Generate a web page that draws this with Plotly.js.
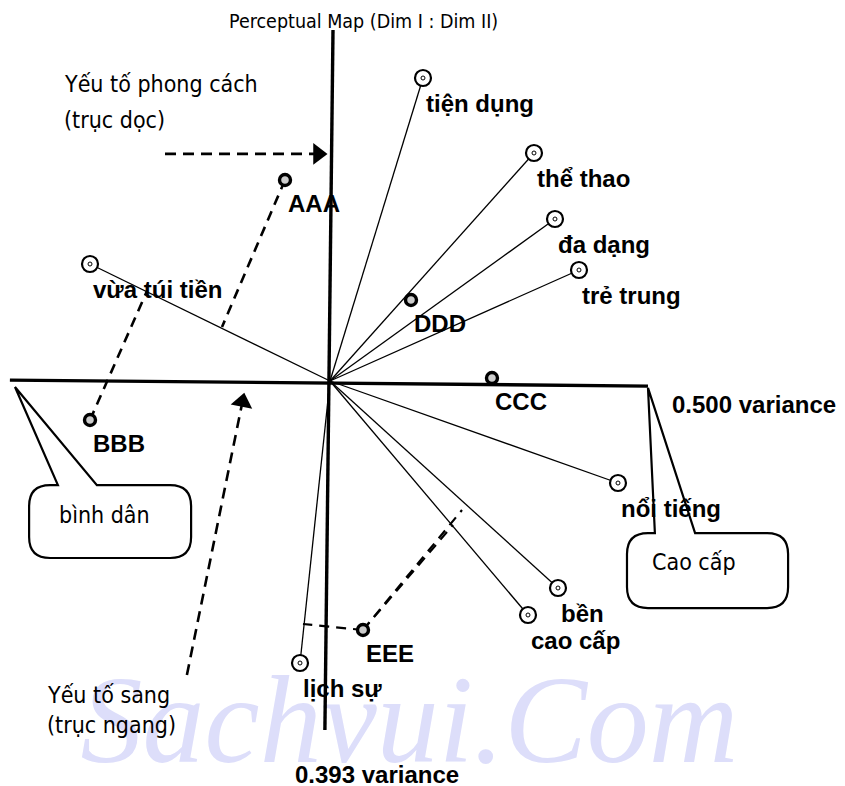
<!DOCTYPE html>
<html>
<head>
<meta charset="utf-8">
<script src="https://cdn.plot.ly/plotly-3.0.1.min.js"></script>
<style>
  body { margin: 0; background: #fff; }
  #plot { width: 845px; height: 786px; }
</style>
</head>
<body>
<div id="plot"></div>
<script>
// attribute vectors (Dim I, Dim II)
var attrNames = ['tiện dụng', 'thể thao', 'đa dạng', 'trẻ trung', 'vừa túi tiền', 'nổi tiếng', 'bền', 'cao cấp', 'lịch sự'];
var attrDim1 = [0.31, 0.68, 0.75, 0.83, -0.80, 0.96, 0.76, 0.66, -0.10];
var attrDim2 = [1.01, 0.76, 0.54, 0.37, 0.39, -0.34, -0.69, -0.78, -0.94];

// brands
var brandNames = ['AAA', 'BBB', 'CCC', 'DDD', 'EEE'];
var brandDim1 = [-0.15, -0.80, 0.54, 0.27, 0.11];
var brandDim2 = [0.67, -0.13, 0.01, 0.27, -0.83];

// projection feet of brands onto attribute vectors
var projFrom = ['AAA', 'BBB', 'EEE', 'EEE', 'EEE'];
var projDim1 = [-0.36, -0.61, -0.09, 0.44, 0.41];
var projDim2 = [0.18, 0.30, -0.81, -0.43, -0.48];

// axes as drawn
var axisH1 = [-1.067, 1.06], axisH2 = [0.003, -0.017];
var axisV1 = [0.01, -0.017], axisV2 = [1.17, -1.163];

var traces = [];

// watermark first so everything sits on top
traces.push({
    x: [0.265], y: [-1.165], mode: 'text', text: ['Sachvui.Com'],
    textfont: { family: 'Liberation Serif, Times New Roman, serif', size: 124, color: 'rgb(221,222,250)', style: 'italic' },
    hoverinfo: 'skip'
});

traces.push({ x: axisH1, y: axisH2, mode: 'lines', line: { color: '#000', width: 3.4 } });
traces.push({ x: axisV1, y: axisV2, mode: 'lines', line: { color: '#000', width: 3.4 } });

// vectors from origin
for (var i = 0; i < attrNames.length; i++) {
    traces.push({
        x: [0, attrDim1[i]], y: [0, attrDim2[i]], mode: 'lines',
        line: { color: '#000', width: 1.3 }
    });
}

// dashed projections
for (var j = 0; j < projFrom.length; j++) {
    var b = brandNames.indexOf(projFrom[j]);
    traces.push({
        x: [brandDim1[b], projDim1[j]], y: [brandDim2[b], projDim2[j]], mode: 'lines',
        line: { color: '#000', width: projFrom[j] === 'EEE' ? 2.2 : 2.6, dash: '10px,7px' }
    });
}

// dashed pointer arrows
var arrowX = [[-0.55, -0.04], [-0.477, -0.292]];
var arrowY = [[0.757, 0.757], [-0.98, -0.07]];
arrowX.forEach(function (ax, k) {
    traces.push({
        x: ax, y: arrowY[k], mode: 'lines+markers',
        line: { color: '#000', width: 2.6, dash: '11px,7px' },
        marker: { symbol: 'triangle-up', size: [0, 19], color: '#000', opacity: 1, angleref: 'previous', line: { width: 0 } }
    });
});

// attribute markers
traces.push({
    x: attrDim1, y: attrDim2, mode: 'markers',
    marker: { symbol: 'circle', size: 16, color: '#fff', line: { color: '#000', width: 2.2 } }
});
traces.push({
    x: attrDim1, y: attrDim2, mode: 'markers',
    marker: { symbol: 'circle-open', size: 4, color: '#000', line: { color: '#000', width: 1 } }
});

// brand markers
traces.push({
    x: brandDim1, y: brandDim2, mode: 'markers',
    marker: { symbol: 'circle', size: 11, color: '#ccc', line: { color: '#000', width: 3.4 } }
});

var annotations = [];
var boldFont = { family: 'Liberation Sans, Arial, sans-serif', size: 24, color: '#000' };
var normFont = { family: 'DejaVu Sans Condensed, DejaVu Sans, sans-serif', size: 23, color: '#000' };

function label(x, y, txt, font, anchor, dx, dy) {
    annotations.push({
        x: x, y: y, xref: 'x', yref: 'y', text: txt, showarrow: false,
        xanchor: anchor || 'left', yanchor: 'middle', xshift: dx || 0, yshift: dy || 0,
        font: font
    });
}

attrNames.forEach(function (n, i) {
    label(attrDim1[i], attrDim2[i], '<b>' + n + '</b>', boldFont, 'left', 1, -25);
});
brandNames.forEach(function (n, i) {
    label(brandDim1[i], brandDim2[i], '<b>' + n + '</b>', boldFont, 'left', 1, -23);
});

label(1.133, -0.077, '<b>0.500 variance</b>', boldFont);
label(-0.123, -1.31, '<b>0.393 variance</b>', boldFont);
label(0.11, 1.197, 'Perceptual Map (Dim I : Dim II)', { family: normFont.family, size: 19.5, color: '#000' }, 'center');
label(-0.893, 0.99, 'Yếu tố phong cách', normFont);
label(-0.893, 0.87, '(trục dọc)', normFont);
label(-0.95, -1.047, 'Yếu tố sang', normFont);
label(-0.95, -1.147, '(trục ngang)', normFont);
label(-0.91, -0.447, 'bình dân', normFont);
label(1.067, -0.603, 'Cao cấp', normFont);

// callout bubbles
function bubble(x0, x1, yTop, yBot, r, tA, tB, tipX, tipY) {
    return 'M' + (x0 + r) + ',' + yTop +
        ' L' + tA + ',' + yTop + ' L' + tipX + ',' + tipY + ' L' + tB + ',' + yTop +
        ' L' + (x1 - r) + ',' + yTop + ' Q' + x1 + ',' + yTop + ' ' + x1 + ',' + (yTop - r) +
        ' L' + x1 + ',' + (yBot + r) + ' Q' + x1 + ',' + yBot + ' ' + (x1 - r) + ',' + yBot +
        ' L' + (x0 + r) + ',' + yBot + ' Q' + x0 + ',' + yBot + ' ' + x0 + ',' + (yBot + r) +
        ' L' + x0 + ',' + (yTop - r) + ' Q' + x0 + ',' + yTop + ' ' + (x0 + r) + ',' + yTop + ' Z';
}

var shapes = [
    { type: 'path', xref: 'x', yref: 'y', path: bubble(-1.003, -0.463, -0.347, -0.59, 0.07, -0.907, -0.777, -1.05, -0.02), line: { color: '#000', width: 2.2 }, fillcolor: 'rgba(0,0,0,0)' },
    { type: 'path', xref: 'x', yref: 'y', path: bubble(0.99, 1.527, -0.507, -0.757, 0.07, 1.083, 1.217, 1.06, -0.023), line: { color: '#000', width: 2.2 }, fillcolor: 'rgba(0,0,0,0)' }
];

var layout = {
    width: 845, height: 786,
    margin: { l: 0, r: 0, t: 0, b: 0 },
    paper_bgcolor: '#fff', plot_bgcolor: '#fff',
    showlegend: false,
    xaxis: { range: [-1.1, 1.7167], visible: false, fixedrange: true },
    yaxis: { range: [-1.35, 1.27], visible: false, fixedrange: true },
    annotations: annotations,
    shapes: shapes
};

Plotly.newPlot('plot', traces, layout, { displayModeBar: false, staticPlot: true });
</script>
</body>
</html>
